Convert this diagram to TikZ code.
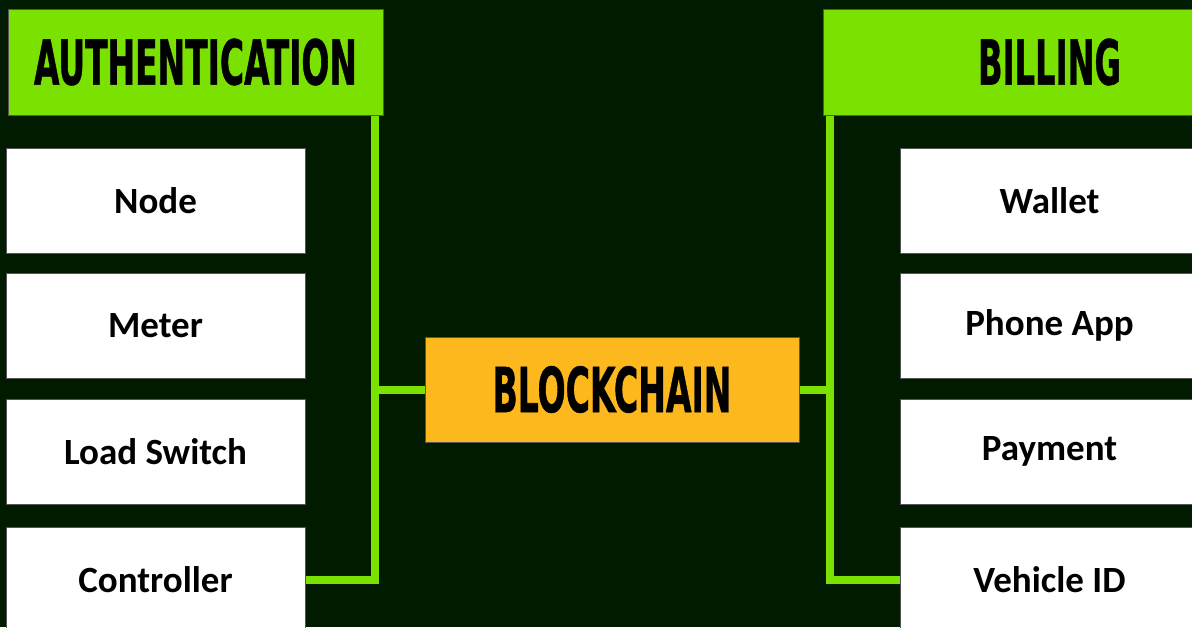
\documentclass[tikz,border=0pt]{standalone}
\usepackage{fontspec}
\setmainfont{Carlito}
\newfontfamily\headfont{DejaVu Sans Condensed}[BoldFeatures={FakeBold=1}]
\definecolor{bgdark}{RGB}{0,27,0}
\definecolor{limegreen}{RGB}{122,225,0}
\definecolor{chainorange}{RGB}{253,184,30}
\definecolor{edgegray}{RGB}{85,85,85}

% heading text squeezed into a fixed box
\newcommand{\headtext}[2]{\resizebox{#1}{46pt}{\headfont\bfseries #2}}

\begin{document}
\begin{tikzpicture}[x=1pt,y=-1pt,
  box/.style={draw=edgegray, line width=1pt, inner sep=0pt, anchor=center},
  item/.style={box, fill=white, minimum width=299pt, minimum height=105pt,
    font=\fontsize{37}{40}\selectfont\bfseries},
  header/.style={box, fill=limegreen, minimum height=106pt},
  hub/.style={box, fill=chainorange, minimum width=374pt, minimum height=105pt},
  link/.style={draw=limegreen, line width=8pt, line join=miter}]
\useasboundingbox (0,0) rectangle (1192,627);
\fill[bgdark] (0,0) rectangle (1192,627);
\begin{scope}
\clip (0,0) rectangle (1192,627);

% headings
\node[header, minimum width=375pt] (auth) at (195.5,62) {\headtext{323pt}{AUTHENTICATION}};
\node[header, minimum width=453pt] (bill) at (1049.5,62) {\headtext{143pt}{BILLING}};

% left column
\node[item] (nodebox) at (155.5,200.5) {Node};
\node[item] (meter)   at (155.5,325.5) {Meter};
\node[item] (switch)  at (155.5,451.5) {Load Switch};
\node[item] (ctrl)    at (155.5,579.5) {Controller};

% right column
\node[item] (wallet)  at (1049.5,200.5) {Wallet};
\node[item] (phone)   at (1049.5,325.5) {Phone App};
\node[item] (payment) at (1049.5,451.5) {Payment};
\node[item] (vehicle) at (1049.5,579.5) {Vehicle ID};

% central hub
\node[hub] (chain) at (612,389.5) {\headtext{239pt}{BLOCKCHAIN}};

% trunk lines
\coordinate (lx) at (375,0);
\coordinate (rx) at (830,0);
\draw[link] (auth.south -| lx) -- (ctrl.east -| lx) -- (ctrl.east);
\draw[link] (chain.west) -- (chain.west -| lx);
\draw[link] (bill.south -| rx) -- (vehicle.west -| rx) -- (vehicle.west);
\draw[link] (chain.east) -- (chain.east -| rx);
\end{scope}
\end{tikzpicture}
\end{document}
